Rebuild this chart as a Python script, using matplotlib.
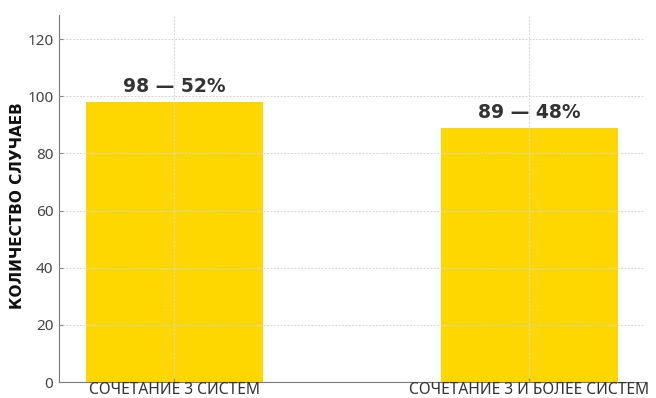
import matplotlib
matplotlib.use("Agg")
import matplotlib.pyplot as plt

plt.rcParams['font.family'] = ['Noto Sans', 'DejaVu Sans']

categories = ["СОЧЕТАНИЕ 3 СИСТЕМ", "СОЧЕТАНИЕ 3 И БОЛЕЕ СИСТЕМ"]
counts = [98, 89]
percents = [52, 48]

fig = plt.figure(figsize=(6.56, 3.98), dpi=100)
ax = fig.add_axes([0.09, 0.04, 0.893, 0.922])
x = list(range(len(categories)))
ax.bar(x, counts, width=0.5, color="#FFD700", zorder=1)
ax.set_ylim(0, max(counts) * 1.31)
ax.set_xticks(x)
ax.set_xticklabels(categories, fontsize=11.2, color="#333333")
ax.tick_params(axis="y", labelsize=11, colors="#888888", labelcolor="#444444",
               direction="in", length=3, pad=4)
ax.tick_params(axis="x", direction="in", length=3, colors="#888888",
               labelcolor="#333333", pad=0)
ax.set_ylabel("КОЛИЧЕСТВО СЛУЧАЕВ", fontsize=11, fontweight="bold", color="#111111",
              family="DejaVu Sans")
ax.yaxis.set_label_coords(-0.058, 0.48)
ax.grid(True, color="#d6d6d6", linewidth=0.7, linestyle=(0, (2, 1.5)), zorder=2)
ax.set_axisbelow(False)
for s in ["top", "right"]:
    ax.spines[s].set_visible(False)
for s in ["left", "bottom"]:
    ax.spines[s].set_color("#777777")
for xi, c, p in zip(x, counts, percents):
    ax.annotate(f"{c} — {p}%", (xi, c), xytext=(0, 4), textcoords="offset points",
                ha="center", va="bottom", fontsize=13.5, fontweight="bold", color="#333333",
                family="DejaVu Sans")
fig.savefig("out.png", dpi=100)
